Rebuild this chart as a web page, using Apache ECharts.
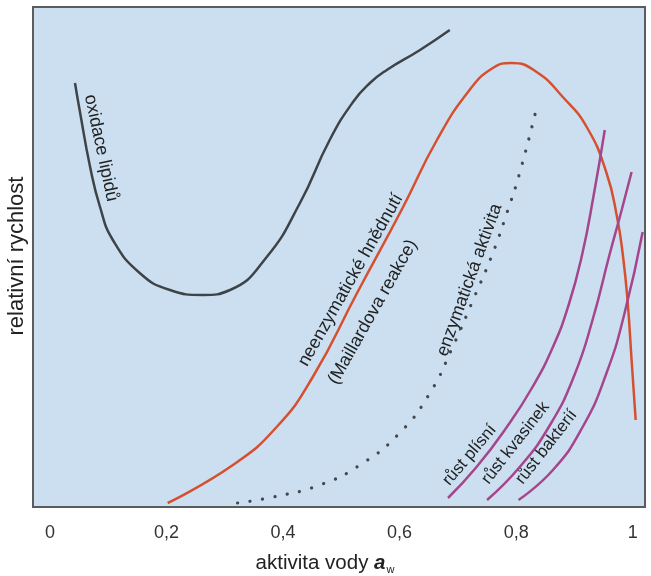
<!DOCTYPE html>
<html>
<head>
<meta charset="utf-8">
<script src="https://cdn.jsdelivr.net/npm/echarts@6/dist/echarts.min.js"></script>
<style>
  html, body { margin: 0; padding: 0; background: #fff; }
  #main { width: 651px; height: 576px; }
</style>
</head>
<body>
<div id="main"></div>
<script>
// data: [aw, relative rate 0..100]
const xTicks = [0, 0.2, 0.4, 0.6, 0.8, 1]
const lipidOxidation = [
  [0.043, 84.8], [0.051, 79.4], [0.069, 68], [0.086, 60], [0.108, 53.4],
  [0.154, 46.8], [0.206, 43.4], [0.262, 42.4], [0.309, 43.4], [0.372, 50],
  [0.429, 60.8], [0.48, 73.4], [0.52, 81], [0.549, 84.8], [0.578, 87.4],
  [0.635, 91.4], [0.686, 95.4]
]
const maillard = [
  [0.202, 0.8], [0.314, 8.4], [0.389, 16], [0.451, 26],
  [0.527, 42.8], [0.606, 60], [0.664, 73.4], [0.72, 83.4], [0.76, 87.8],
  [0.792, 88.8], [0.835, 87], [0.88, 82], [0.921, 76], [0.955, 66.8],
  [0.973, 58], [0.983, 50.4], [0.991, 41.4], [0.998, 29.4], [1.005, 17.4]
]
const enzymes = [
  [0.322, 0.8], [0.383, 2], [0.463, 4.4], [0.532, 8.4], [0.6, 14.8],
  [0.652, 22.8], [0.691, 32], [0.726, 41.4], [0.76, 50.8], [0.784, 58.8],
  [0.806, 66.8], [0.837, 80.8]
]
const molds = [
  [0.683, 1.8], [0.732, 8], [0.784, 16], [0.828, 24], [0.863, 32],
  [0.89, 40.4], [0.913, 50.4], [0.933, 62.4], [0.952, 75.4]
]
const yeasts = [
  [0.75, 1.4], [0.806, 8], [0.858, 16.4], [0.9, 26.4], [0.931, 37.4],
  [0.96, 50.4], [0.981, 59.4], [0.998, 67]
]
const bacteria = [
  [0.804, 1.4], [0.863, 7.4], [0.914, 16], [0.955, 26.8], [0.986, 38.8],
  [1.017, 55]
]
// curve labels: text, anchor [aw, rate], angle in degrees, font size
const curveLabels = [
  ['oxidace lipidů', [0.0875, 71.8], -78, 18],
  ['neenzymatické hnědnutí', [0.516, 45.4], 60.5, 18],
  ['(Maillardova reakce)', [0.554, 39], 60.5, 18],
  ['enzymatická aktivita', [0.72, 45.4], 70, 18],
  ['růst plísní', [0.72, 10.4], 50, 17],
  ['růst kvasinek', [0.799, 12.8], 52, 17],
  ['růst bakterií', [0.852, 12], 52, 17]
]

const font = '"Liberation Sans", Arial, sans-serif'
const chart = echarts.init(document.getElementById('main'))

function curve(data, color, extra) {
  return {
    type: 'line',
    data: data,
    smooth: 0.5,
    showSymbol: false,
    silent: true,
    lineStyle: Object.assign({ color: color, width: 2.5 }, extra || {})
  }
}

chart.setOption({
  animation: false,
  grid: {
    left: 33, top: 7, width: 612, height: 500,
    show: true,
    backgroundColor: '#cbdff1',
    borderColor: '#5a5d60',
    borderWidth: 2
  },
  xAxis: {
    type: 'value',
    min: -0.029,
    max: 1.021,
    axisLine: { show: false },
    axisTick: { show: false },
    splitLine: { show: false },
    axisLabel: {
      customValues: xTicks,
      margin: 17,
      fontSize: 18,
      fontFamily: font,
      color: '#333',
      formatter: function (v) {
        return String(v).replace('.', ',')
      }
    }
  },
  yAxis: {
    type: 'value',
    min: 0,
    max: 100,
    axisLine: { show: false },
    axisTick: { show: false },
    axisLabel: { show: false },
    splitLine: { show: false }
  },
  series: [
    curve(lipidOxidation, '#3e4347'),
    curve(maillard, '#d6502f'),
    curve(enzymes, '#44474c', { width: 3.2, type: [0.1, 12.5], cap: 'round' }),
    curve(molds, '#a5458c'),
    curve(yeasts, '#a5458c'),
    curve(bacteria, '#a5458c')
  ]
})

// labels placed through the axes
const graphics = curveLabels.map(function (l) {
  const p = chart.convertToPixel({ gridIndex: 0 }, l[1])
  return {
    type: 'text',
    x: p[0],
    y: p[1],
    rotation: l[2] * Math.PI / 180,
    silent: true,
    style: {
      text: l[0],
      fontSize: l[3],
      fontFamily: font,
      fill: '#222',
      align: 'center',
      verticalAlign: 'middle'
    }
  }
})
graphics.push({
  type: 'text',
  x: 17, y: 256,
  rotation: Math.PI / 2,
  style: {
    text: 'relativní rychlost',
    fontSize: 22,
    fontFamily: font,
    fill: '#222',
    align: 'center',
    verticalAlign: 'middle'
  }
})
graphics.push({
  type: 'text',
  x: 325, y: 563,
  style: {
    text: '{t|aktivita vody }{a|a}{w|w}',
    fontFamily: font,
    fill: '#222',
    align: 'center',
    verticalAlign: 'middle',
    rich: {
      t: { fontSize: 20.5, fontFamily: font, fill: '#222' },
      a: { fontSize: 20.5, fontFamily: font, fill: '#222', fontWeight: 'bold', fontStyle: 'italic' },
      w: { fontSize: 11, fontFamily: font, fill: '#222', padding: [14, 0, 0, 1] }
    }
  }
})
chart.setOption({ graphic: graphics })
</script>
</body>
</html>
